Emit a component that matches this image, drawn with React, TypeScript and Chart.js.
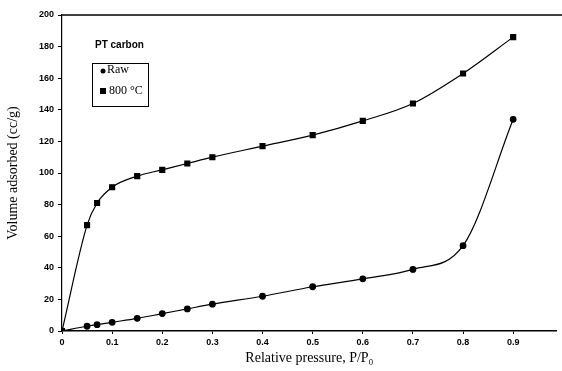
import React, { useEffect, useRef } from "react";
import { Chart, registerables } from "chart.js";

Chart.register(...registerables);

const pressure = [0, 0.05, 0.07, 0.1, 0.15, 0.2, 0.25, 0.3, 0.4, 0.5, 0.6, 0.7, 0.8, 0.9];
const raw = [0, 3, 4, 5.5, 8, 11, 14, 17, 22, 28, 33, 39, 54, 134];
const t800 = [0, 67, 81, 91, 98, 102, 106, 110, 117, 124, 133, 144, 163, 186];
const seriesNames = ["Raw", "800 °C"];
const annotationTitle = "PT carbon";
const xTitle = "Relative pressure, P/P₀";
const yTitle = "Volume adsorbed (cc/g)";

const overlay = {
  id: "overlay",
  afterDraw(chart: any) {
    const { ctx, chartArea } = chart;
    ctx.save();
    ctx.strokeStyle = "#000";
    ctx.lineWidth = 1.5;
    ctx.beginPath();
    ctx.moveTo(chartArea.left, chartArea.top);
    ctx.lineTo(chart.width, chartArea.top);
    ctx.stroke();
    ctx.fillStyle = "#000";
    ctx.font = "bold 10px 'Liberation Sans', Arial, sans-serif";
    ctx.textBaseline = "middle";
    ctx.textAlign = "left";
    ctx.fillText(annotationTitle, 95, 45);
    ctx.lineWidth = 1;
    ctx.strokeRect(92.5, 63.5, 56, 43);
    ctx.font = "12px 'Liberation Serif', 'Times New Roman', serif";
    ctx.beginPath();
    ctx.arc(103, 71, 2.5, 0, Math.PI * 2);
    ctx.fill();
    ctx.fillText(seriesNames[0], 107, 70);
    ctx.fillRect(100, 88, 6, 6);
    ctx.fillText(seriesNames[1], 109, 91);
    ctx.restore();
  },
};

export default function App() {
  const ref = useRef<HTMLCanvasElement>(null);
  useEffect(() => {
    document.body.style.margin = "0";
    const chart = new Chart(ref.current!, {
      type: "line",
      data: {
        datasets: [
          {
            label: seriesNames[0],
            data: pressure.map((x, i) => ({ x, y: raw[i] })),
            borderColor: "#000",
            backgroundColor: "#000",
            borderWidth: 1.2,
            pointStyle: "circle",
            pointRadius: 2.8,
            cubicInterpolationMode: "monotone",
          },
          {
            label: seriesNames[1],
            data: pressure.map((x, i) => ({ x, y: t800[i] })),
            borderColor: "#000",
            backgroundColor: "#000",
            borderWidth: 1.2,
            pointStyle: "rect",
            pointRadius: 3.5,
            cubicInterpolationMode: "monotone",
          },
        ],
      },
      options: {
        animation: false,
        responsive: false,
        layout: { padding: { top: 15, right: 0, left: 0, bottom: 0 } },
        plugins: { legend: { display: false }, tooltip: { enabled: false } },
        scales: {
          x: {
            type: "linear",
            min: 0,
            max: 0.987,
            afterFit: (s: any) => { s.height = 40; },
            afterBuildTicks: (s: any) => {
              s.ticks = [0, 0.1, 0.2, 0.3, 0.4, 0.5, 0.6, 0.7, 0.8, 0.9].map((v) => ({ value: v }));
            },
            border: { display: true, color: "#000", width: 1.5 },
            grid: { display: true, drawOnChartArea: false, color: "#000", tickLength: 3 },
            ticks: {
              color: "#000",
              padding: 3,
              maxRotation: 0,
              font: { family: "'Liberation Sans', Arial, sans-serif", size: 9, weight: "bold" },
              callback: (v: any) => (v === 0 ? "0" : Number(v).toFixed(1)),
            },
            title: {
              display: true,
              text: xTitle,
              color: "#000",
              padding: { top: 2, bottom: 4 },
              font: { family: "'Liberation Serif', 'Times New Roman', serif", size: 14 },
            },
          },
          y: {
            min: 0,
            max: 200,
            afterFit: (s: any) => { s.width = 62; },
            border: { display: true, color: "#000", width: 1.2 },
            grid: { display: true, drawOnChartArea: false, color: "#000", tickLength: 4 },
            ticks: {
              stepSize: 20,
              color: "#000",
              padding: 4,
              font: { family: "'Liberation Sans', Arial, sans-serif", size: 9, weight: "bold" },
            },
            title: {
              display: true,
              text: yTitle,
              color: "#000",
              padding: { top: 5, bottom: 8 },
              font: { family: "'Liberation Serif', 'Times New Roman', serif", size: 14 },
            },
          },
        },
      },
      plugins: [overlay],
    } as any);
    return () => chart.destroy();
  }, []);
  return (
    <div style={{ width: 562, height: 371, background: "#fff" }}>
      <canvas ref={ref} width={562} height={371} />
    </div>
  );
}
